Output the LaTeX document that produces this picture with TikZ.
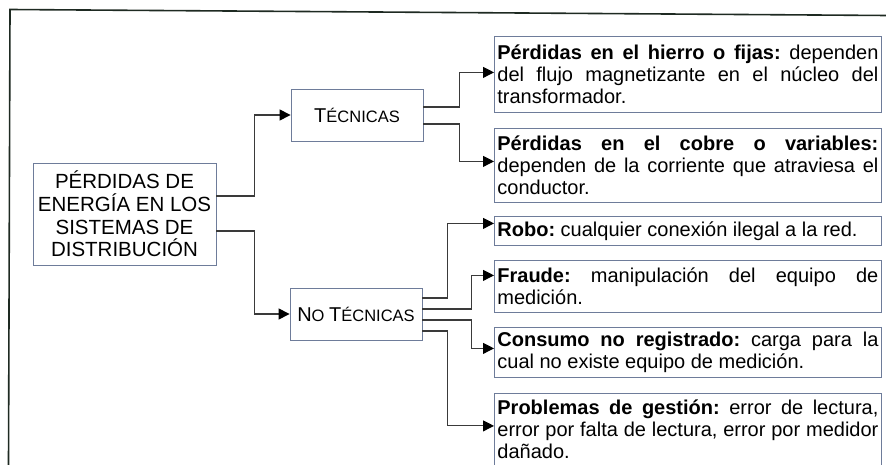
\documentclass[tikz,border=0pt]{standalone}
\usepackage{fontspec}
\setmainfont{Liberation Sans}
\usetikzlibrary{arrows.meta}
\definecolor{boxc}{HTML}{6E7C9A}
\definecolor{linec}{HTML}{3A3A3A}
\definecolor{framec}{HTML}{1E2A22}
\frenchspacing
\begin{document}
\begin{tikzpicture}[x=1pt,y=-1pt,
  boxs/.style={draw=boxc, line width=0.8pt, inner xsep=3pt, inner ysep=0pt},
  descbox/.style={boxs, anchor=north west, text width=381pt, align=justify,
    font=\fontsize{20}{22}\selectfont\frenchspacing},
  conn/.style={draw=linec, line width=1.1pt, -{Triangle[length=11pt,width=11pt,black]}},
  framel/.style={draw=framec, line width=1.6pt}]
\useasboundingbox (0,0) rectangle (886,465);
\draw[framel] (8.5,466) -- (10,9.5) -- (887,15.5);
\node[boxs, minimum width=183pt, minimum height=102pt, align=center,
  font=\fontsize{20.5}{22.6}\selectfont] (main) at (124.5,214)
  {PÉRDIDAS DE\\ENERGÍA EN LOS\\SISTEMAS DE\\DISTRIBUCIÓN};
\node[boxs, minimum width=132pt, minimum height=52pt] (tec) at (357,115)
  {{\fontsize{20}{24}\selectfont T}{\fontsize{16.5}{20}\selectfont ÉCNICAS}};
\node[boxs, minimum width=132pt, minimum height=52pt] (notec) at (356,314)
  {{\fontsize{20}{24}\selectfont N}{\fontsize{16.5}{20}\selectfont O }{\fontsize{20}{24}\selectfont T}{\fontsize{16.5}{20}\selectfont ÉCNICAS}};
\node[descbox, minimum height=76pt] (b1) at (494,36)
  {\textbf{Pérdidas en el hierro o fijas:} dependen\linebreak del flujo magnetizante en el núcleo del\linebreak transformador.};
\node[descbox, minimum height=74pt] (b2) at (494,128)
  {\textbf{Pérdidas en el cobre o variables:}\linebreak dependen de la corriente que atraviesa el\linebreak conductor.};
\node[descbox, minimum height=29pt] (b3) at (494,216)
  {\textbf{Robo:} cualquier conexión ilegal a la red.};
\node[descbox, minimum height=52pt] (b4) at (494,260)
  {\textbf{Fraude:} manipulación del equipo de\linebreak medición.};
\node[descbox, minimum height=50pt] (b5) at (494,327)
  {\textbf{Consumo no registrado:} carga para la\linebreak cual no existe equipo de medición.};
\node[descbox, minimum height=72pt] (b6) at (494,393)
  {\textbf{Problemas de gestión:} error de lectura,\linebreak error por falta de lectura, error por medidor\linebreak dañado.};
\draw[conn] ([yshift=18pt]main.east) -- ++(38,0) |- (tec.west);
\draw[conn] ([yshift=-17pt]main.east) -- ++(38,0) |- (notec.west);
\draw[conn] ([yshift=8pt]tec.east) -- ++(36,0) |- ([yshift=2pt]b1.west);
\draw[conn] ([yshift=-9pt]tec.east) -- ++(36,0) |- ([yshift=4pt]b2.west);
\draw[conn] ([yshift=16pt]notec.east) -- ++(25,0) |- ([yshift=7.5pt]b3.west);
\draw[conn] ([yshift=5pt]notec.east) -- ++(49,0) |- ([yshift=11pt]b4.west);
\draw[conn] ([yshift=-6pt]notec.east) -- ++(49,0) |- ([yshift=4pt]b5.west);
\draw[conn] ([yshift=-17pt]notec.east) -- ++(25,0) |- ([yshift=3.5pt]b6.west);
\end{tikzpicture}
\end{document}
